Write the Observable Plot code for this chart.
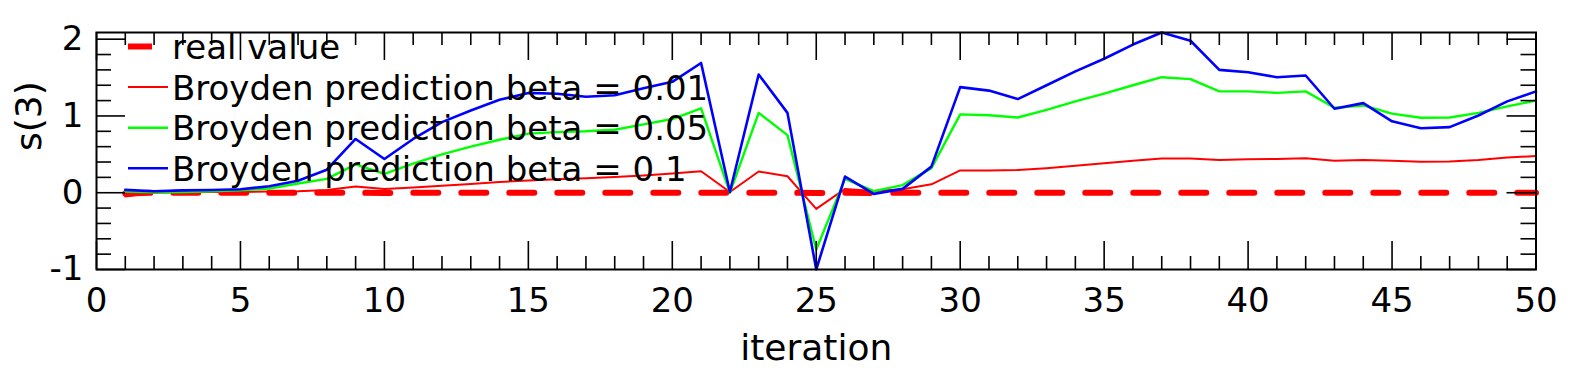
<!DOCTYPE html>
<html>
<head>
<meta charset="utf-8">
<script src="https://cdn.jsdelivr.net/npm/d3@7"></script>
<script src="https://cdn.jsdelivr.net/npm/@observablehq/plot@0.6"></script>
<style>
  html, body { margin: 0; padding: 0; background: #ffffff; }
  #chart svg { display: block; }
</style>
</head>
<body>
<div id="chart"></div>
<script>
// ---- data ----
const iterations = d3.range(1, 51);

const realValue = [
  -0.01, 0.0, 0.0, 0.0, 0.0, 0.0, 0.0, 0.0, 0.0, -0.005,
  0.0, 0.0, 0.0, 0.0, 0.0, 0.0, 0.0, 0.0, 0.0, 0.0,
  0.0, 0.0, 0.0, 0.0, -0.005, 0.0, -0.005, 0.0, 0.0, 0.0,
  0.0, 0.0, 0.0, 0.0, 0.0, 0.0, 0.0, 0.0, 0.0, 0.0,
  0.0, 0.0, 0.0, 0.0, 0.0, 0.0, 0.0, 0.0, 0.0, 0.0
];

const beta001 = [
  -0.05, 0.0, 0.005, 0.01, 0.01, 0.015, 0.02, 0.035, 0.08, 0.05,
  0.067, 0.09, 0.115, 0.14, 0.16, 0.175, 0.19, 0.205, 0.225, 0.25,
  0.28, 0.01, 0.276, 0.215, -0.21, 0.05, 0.024, 0.045, 0.11, 0.29,
  0.29, 0.295, 0.32, 0.35, 0.385, 0.415, 0.445, 0.445, 0.425, 0.435,
  0.44, 0.45, 0.417, 0.427, 0.415, 0.405, 0.408, 0.425, 0.458, 0.478
];

const beta005 = [
  0.015, 0.005, 0.01, 0.02, 0.03, 0.055, 0.12, 0.18, 0.37, 0.245,
  0.38, 0.50, 0.60, 0.69, 0.77, 0.79, 0.80, 0.82, 0.89, 0.96,
  1.10, 0.0, 1.04, 0.75, -0.74, 0.18, 0.02, 0.10, 0.32, 1.02,
  1.01, 0.98, 1.08, 1.19, 1.29, 1.40, 1.505, 1.48, 1.32, 1.32,
  1.30, 1.32, 1.107, 1.137, 1.03, 0.977, 0.98, 1.04, 1.124, 1.20
];

const beta01 = [
  0.037, 0.02, 0.03, 0.035, 0.045, 0.085, 0.155, 0.30, 0.70, 0.44,
  0.70, 0.92, 1.07, 1.21, 1.30, 1.29, 1.25, 1.27, 1.36, 1.445,
  1.69, 0.01, 1.54, 1.04, -1.0, 0.21, -0.015, 0.05, 0.34, 1.375,
  1.33, 1.22, 1.40, 1.58, 1.745, 1.93, 2.087, 1.98, 1.60, 1.57,
  1.505, 1.527, 1.094, 1.167, 0.93, 0.84, 0.855, 1.006, 1.19, 1.32
];

const xTickLabels = [0, 5, 10, 15, 20, 25, 30, 35, 40, 45, 50];
const yTickLabels = [-1, 0, 1, 2];
const xMinorTicks = iterations.filter(d => d % 5 !== 0);
const yMinorTicks = d3.range(-5, 11).filter(k => k % 5 !== 0).map(k => k / 5);

const seriesNames = [
  "real value",
  "Broyden prediction beta = 0.01",
  "Broyden prediction beta = 0.05",
  "Broyden prediction beta = 0.1"
];
const seriesColors = ["#ff0000", "#ff0000", "#00ff00", "#0000ff"];

// ---- layout ----
const W = 1589, HT = 371;
const mL = 96, mR = 53.5, mT = 32, mB = 102;
const plotW = W - mL - mR, plotH = HT - mT - mB;
const minorX = 13, majorX = 28, minorY = 15, majorY = 29;
const FONT = "'DejaVu Sans', 'Liberation Sans', sans-serif";

const tickStyle = {stroke: "black", strokeWidth: 1.6};

const chart = Plot.plot({
  width: W,
  height: HT,
  marginLeft: mL,
  marginRight: mR,
  marginTop: mT,
  marginBottom: mB,
  style: {fontFamily: FONT, fontSize: "34px", background: "white", color: "black"},
  x: {domain: [0, 50]},
  y: {domain: [-1, 2.087]},
  marks: [
    // series
    Plot.lineY(realValue, {x: (d, i) => iterations[i], y: d => d, stroke: seriesColors[0], strokeWidth: 6, strokeDasharray: "25,23"}),
    Plot.lineY(beta001, {x: (d, i) => iterations[i], y: d => d, stroke: seriesColors[1], strokeWidth: 2}),
    Plot.lineY(beta005, {x: (d, i) => iterations[i], y: d => d, stroke: seriesColors[2], strokeWidth: 2.4}),
    Plot.lineY(beta01, {x: (d, i) => iterations[i], y: d => d, stroke: seriesColors[3], strokeWidth: 2.6}),
    // x ticks, top and bottom, pointing inward
    Plot.tickX(xMinorTicks, {x: d => d, insetBottom: plotH - minorX, ...tickStyle}),
    Plot.tickX(xMinorTicks, {x: d => d, insetTop: plotH - minorX, ...tickStyle}),
    Plot.tickX(xTickLabels, {x: d => d, insetBottom: plotH - majorX, ...tickStyle}),
    Plot.tickX(xTickLabels, {x: d => d, insetTop: plotH - majorX, ...tickStyle}),
    // y ticks, left and right, pointing inward
    Plot.tickY(yMinorTicks, {y: d => d, insetRight: plotW - minorY, ...tickStyle}),
    Plot.tickY(yMinorTicks, {y: d => d, insetLeft: plotW - minorY, ...tickStyle}),
    Plot.tickY(yTickLabels, {y: d => d, insetRight: plotW - majorY, ...tickStyle}),
    Plot.tickY(yTickLabels, {y: d => d, insetLeft: plotW - majorY, ...tickStyle}),
    Plot.frame({stroke: "black", strokeWidth: 2}),
    // tick labels
    Plot.axisX({ticks: xTickLabels, tickSize: 0, tickPadding: 18, fontSize: 34, label: null, tickFormat: d => String(d)}),
    Plot.axisY({ticks: yTickLabels, tickSize: 0, tickPadding: 13, fontSize: 34, label: null, tickFormat: d => String(d)}),
    // axis titles
    Plot.text(["iteration"], {frameAnchor: "bottom", text: d => d, dy: 90, fontSize: 36, fill: "black"}),
    Plot.text(["s(3)"], {frameAnchor: "left", text: d => d, dx: -67, rotate: -90, fontSize: 36, fill: "black"})
  ]
});

// ---- legend (inside the frame, top-left, no box) ----
const svg = d3.select(chart);
const lg = svg.append("g").attr("transform", `translate(${mL},${mT})`);
const rowY0 = 14.5, rowStep = 40.6;
seriesNames.forEach((name, k) => {
  const y = rowY0 + rowStep * k;
  if (k === 0) {
    lg.append("line").attr("x1", 32).attr("x2", 56).attr("y1", y).attr("y2", y)
      .attr("stroke", seriesColors[k]).attr("stroke-width", 6);
  } else {
    lg.append("line").attr("x1", 32).attr("x2", 72).attr("y1", y).attr("y2", y)
      .attr("stroke", seriesColors[k]).attr("stroke-width", k === 1 ? 2 : 2.5);
  }
  lg.append("text").attr("x", 76).attr("y", y + 12.5)
    .attr("text-anchor", "start")
    .attr("font-family", FONT).attr("font-size", 34).attr("fill", "black")
    .text(name);
});

document.getElementById("chart").appendChild(chart);
</script>
</body>
</html>
